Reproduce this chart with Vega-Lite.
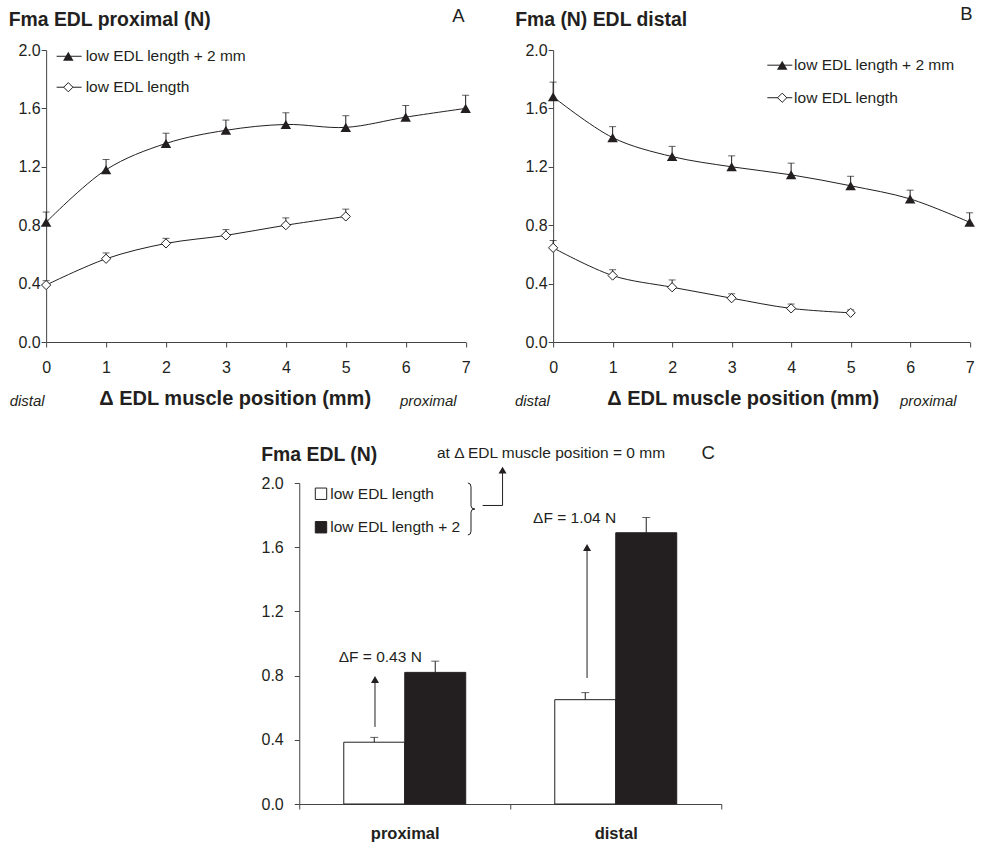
{
  "$schema": "https://vega.github.io/schema/vega-lite/v6.json",
  "background": "white",
  "padding": {"left": 8, "right": 8, "top": 5, "bottom": 0},
  "config": {
    "font": "Liberation Sans",
    "view": {"stroke": null},
    "axis": {"grid": false, "domainColor": "#444444", "tickColor": "#444444", "labelColor": "#231f20", "titleColor": "#231f20", "labelFontSize": 16, "tickSize": 5, "labelFont": "Liberation Sans", "titleFont": "Liberation Sans"},
    "text": {"color": "#231f20", "font": "Liberation Sans"}
  },
  "datasets": {
    "one": [{}],
    "A": [
      {"pos": 0, "series": "low EDL length + 2 mm", "force": 0.82, "upper": 0.89},
      {"pos": 1, "series": "low EDL length + 2 mm", "force": 1.18, "upper": 1.25},
      {"pos": 2, "series": "low EDL length + 2 mm", "force": 1.36, "upper": 1.43},
      {"pos": 3, "series": "low EDL length + 2 mm", "force": 1.45, "upper": 1.52},
      {"pos": 4, "series": "low EDL length + 2 mm", "force": 1.49, "upper": 1.57},
      {"pos": 5, "series": "low EDL length + 2 mm", "force": 1.47, "upper": 1.55},
      {"pos": 6, "series": "low EDL length + 2 mm", "force": 1.54, "upper": 1.62},
      {"pos": 7, "series": "low EDL length + 2 mm", "force": 1.6, "upper": 1.69},
      {"pos": 0, "series": "low EDL length", "force": 0.39, "upper": 0.42},
      {"pos": 1, "series": "low EDL length", "force": 0.57, "upper": 0.61},
      {"pos": 2, "series": "low EDL length", "force": 0.675, "upper": 0.71},
      {"pos": 3, "series": "low EDL length", "force": 0.73, "upper": 0.77},
      {"pos": 4, "series": "low EDL length", "force": 0.8, "upper": 0.85},
      {"pos": 5, "series": "low EDL length", "force": 0.86, "upper": 0.91}
    ],
    "B": [
      {"pos": 0, "series": "low EDL length + 2 mm", "force": 1.68, "upper": 1.78},
      {"pos": 1, "series": "low EDL length + 2 mm", "force": 1.4, "upper": 1.475},
      {"pos": 2, "series": "low EDL length + 2 mm", "force": 1.27, "upper": 1.34},
      {"pos": 3, "series": "low EDL length + 2 mm", "force": 1.2, "upper": 1.275},
      {"pos": 4, "series": "low EDL length + 2 mm", "force": 1.145, "upper": 1.225},
      {"pos": 5, "series": "low EDL length + 2 mm", "force": 1.07, "upper": 1.135},
      {"pos": 6, "series": "low EDL length + 2 mm", "force": 0.98, "upper": 1.04},
      {"pos": 7, "series": "low EDL length + 2 mm", "force": 0.82, "upper": 0.885},
      {"pos": 0, "series": "low EDL length", "force": 0.645, "upper": 0.695},
      {"pos": 1, "series": "low EDL length", "force": 0.455, "upper": 0.495},
      {"pos": 2, "series": "low EDL length", "force": 0.375, "upper": 0.425},
      {"pos": 3, "series": "low EDL length", "force": 0.3, "upper": 0.33},
      {"pos": 4, "series": "low EDL length", "force": 0.23, "upper": 0.26},
      {"pos": 5, "series": "low EDL length", "force": 0.2, "upper": 0.22}
    ],
    "C": [
      {"side": "proximal", "series": "low EDL length", "force": 0.385, "upper": 0.415},
      {"side": "proximal", "series": "low EDL length + 2", "force": 0.82, "upper": 0.89},
      {"side": "distal", "series": "low EDL length", "force": 0.65, "upper": 0.694},
      {"side": "distal", "series": "low EDL length + 2", "force": 1.69, "upper": 1.785}
    ]
  },
  "vconcat": [
    {
      "hconcat": [
        {
          "width": 419.5,
          "height": 292,
          "layer": [
            {
              "data": {"name": "A"},
              "encoding": {
                "x": {"field": "pos", "type": "quantitative", "scale": {"domain": [0, 7], "nice": false},
                  "axis": {"values": [0, 1, 2, 3, 4, 5, 6, 7], "format": "d", "title": "Δ EDL muscle position (mm)", "titleFontSize": 20, "titleFontWeight": "bold", "titleX": 188.5, "titleY": 62, "titleBaseline": "alphabetic", "titleAlign": "center", "labelPadding": 12, "labelFlush": false}},
                "y": {"field": "force", "type": "quantitative", "scale": {"domain": [0, 2]},
                  "axis": {"values": [0, 0.4, 0.8, 1.2, 1.6, 2], "format": ".1f", "title": "Fma EDL proximal (N)", "titleAngle": 0, "titleAlign": "left", "titleBaseline": "alphabetic", "titleX": -38, "titleY": -25, "titleFontSize": 19.4, "titleFontWeight": "bold", "labelPadding": 1}}
              },
              "layer": [
                {"mark": {"type": "line", "interpolate": "catmull-rom", "color": "#231f20", "strokeWidth": 1}, "encoding": {"detail": {"field": "series"}}},
                {"mark": {"type": "rule", "color": "#231f20", "strokeWidth": 1}, "encoding": {"y2": {"field": "upper"}}},
                {"mark": {"type": "tick", "orient": "horizontal", "size": 7, "thickness": 1, "color": "#231f20"}, "encoding": {"y": {"field": "upper", "type": "quantitative"}}},
                {"transform": [{"filter": "datum.series == 'low EDL length + 2 mm'"}], "mark": {"type": "point", "shape": "triangle-up", "size": 110, "filled": true, "color": "#231f20", "opacity": 1}},
                {"transform": [{"filter": "datum.series == 'low EDL length'"}], "mark": {"type": "point", "shape": "diamond", "size": 85, "filled": true, "fill": "white", "stroke": "#231f20", "strokeWidth": 1, "opacity": 1}}
              ]
            },
            {
              "data": {"name": "one"},
              "layer": [
                {"mark": {"type": "text", "text": "A", "fontSize": 18.5, "align": "center", "baseline": "alphabetic"}, "encoding": {"x": {"datum": 6.878}, "y": {"datum": 2.193}}},
                {"mark": {"type": "text", "text": "distal", "fontSize": 15, "fontStyle": "italic", "align": "left", "baseline": "alphabetic"}, "encoding": {"x": {"datum": -0.609}, "y": {"datum": -0.44}}},
                {"mark": {"type": "text", "text": "proximal", "fontSize": 15, "fontStyle": "italic", "align": "left", "baseline": "alphabetic"}, "encoding": {"x": {"datum": 5.904}, "y": {"datum": -0.44}}},
                {"mark": {"type": "rule", "color": "#231f20", "strokeWidth": 1}, "encoding": {"x": {"datum": 0.175}, "x2": {"datum": 0.592}, "y": {"datum": 1.957}}},
                {"mark": {"type": "rule", "color": "#231f20", "strokeWidth": 1}, "encoding": {"x": {"datum": 0.175}, "x2": {"datum": 0.592}, "y": {"datum": 1.745}}},
                {"mark": {"type": "point", "shape": "triangle-up", "size": 110, "filled": true, "color": "#231f20", "opacity": 1}, "encoding": {"x": {"datum": 0.37}, "y": {"datum": 1.957}}},
                {"mark": {"type": "point", "shape": "diamond", "size": 85, "filled": true, "fill": "white", "stroke": "#231f20", "strokeWidth": 1, "opacity": 1}, "encoding": {"x": {"datum": 0.37}, "y": {"datum": 1.745}}},
                {"mark": {"type": "text", "text": "low EDL length + 2 mm", "fontSize": 15.5, "align": "left", "baseline": "middle"}, "encoding": {"x": {"datum": 0.66}, "y": {"datum": 1.957}}},
                {"mark": {"type": "text", "text": "low EDL length", "fontSize": 15.5, "align": "left", "baseline": "middle"}, "encoding": {"x": {"datum": 0.66}, "y": {"datum": 1.745}}}
              ]
            }
          ]
        },
        {
          "width": 416.5,
          "height": 292,
          "layer": [
            {
              "data": {"name": "B"},
              "encoding": {
                "x": {"field": "pos", "type": "quantitative", "scale": {"domain": [0, 7], "nice": false},
                  "axis": {"values": [0, 1, 2, 3, 4, 5, 6, 7], "format": "d", "title": "Δ EDL muscle position (mm)", "titleFontSize": 20, "titleFontWeight": "bold", "titleX": 189.5, "titleY": 62, "titleBaseline": "alphabetic", "titleAlign": "center", "labelPadding": 12, "labelFlush": false}},
                "y": {"field": "force", "type": "quantitative", "scale": {"domain": [0, 2]},
                  "axis": {"values": [0, 0.4, 0.8, 1.2, 1.6, 2], "format": ".1f", "title": "Fma (N) EDL distal", "titleAngle": 0, "titleAlign": "left", "titleBaseline": "alphabetic", "titleX": -38.5, "titleY": -24.5, "titleFontSize": 19.4, "titleFontWeight": "bold", "labelPadding": 1}}
              },
              "layer": [
                {"mark": {"type": "line", "interpolate": "catmull-rom", "color": "#231f20", "strokeWidth": 1}, "encoding": {"detail": {"field": "series"}}},
                {"mark": {"type": "rule", "color": "#231f20", "strokeWidth": 1}, "encoding": {"y2": {"field": "upper"}}},
                {"mark": {"type": "tick", "orient": "horizontal", "size": 7, "thickness": 1, "color": "#231f20"}, "encoding": {"y": {"field": "upper", "type": "quantitative"}}},
                {"transform": [{"filter": "datum.series == 'low EDL length + 2 mm'"}], "mark": {"type": "point", "shape": "triangle-up", "size": 110, "filled": true, "color": "#231f20", "opacity": 1}},
                {"transform": [{"filter": "datum.series == 'low EDL length'"}], "mark": {"type": "point", "shape": "diamond", "size": 85, "filled": true, "fill": "white", "stroke": "#231f20", "strokeWidth": 1, "opacity": 1}}
              ]
            },
            {
              "data": {"name": "one"},
              "layer": [
                {"mark": {"type": "text", "text": "B", "fontSize": 18.5, "align": "center", "baseline": "alphabetic"}, "encoding": {"x": {"datum": 6.946}, "y": {"datum": 2.205}}},
                {"mark": {"type": "text", "text": "distal", "fontSize": 15, "fontStyle": "italic", "align": "left", "baseline": "alphabetic"}, "encoding": {"x": {"datum": -0.642}, "y": {"datum": -0.44}}},
                {"mark": {"type": "text", "text": "proximal", "fontSize": 15, "fontStyle": "italic", "align": "left", "baseline": "alphabetic"}, "encoding": {"x": {"datum": 5.83}, "y": {"datum": -0.44}}},
                {"mark": {"type": "rule", "color": "#231f20", "strokeWidth": 1}, "encoding": {"x": {"datum": 3.6}, "x2": {"datum": 4.02}, "y": {"datum": 1.896}}},
                {"mark": {"type": "rule", "color": "#231f20", "strokeWidth": 1}, "encoding": {"x": {"datum": 3.6}, "x2": {"datum": 4.02}, "y": {"datum": 1.673}}},
                {"mark": {"type": "point", "shape": "triangle-up", "size": 110, "filled": true, "color": "#231f20", "opacity": 1}, "encoding": {"x": {"datum": 3.85}, "y": {"datum": 1.896}}},
                {"mark": {"type": "point", "shape": "diamond", "size": 85, "filled": true, "fill": "white", "stroke": "#231f20", "strokeWidth": 1, "opacity": 1}, "encoding": {"x": {"datum": 3.85}, "y": {"datum": 1.673}}},
                {"mark": {"type": "text", "text": "low EDL length + 2 mm", "fontSize": 15.5, "align": "left", "baseline": "middle"}, "encoding": {"x": {"datum": 4.05}, "y": {"datum": 1.896}}},
                {"mark": {"type": "text", "text": "low EDL length", "fontSize": 15.5, "align": "left", "baseline": "middle"}, "encoding": {"x": {"datum": 4.05}, "y": {"datum": 1.673}}}
              ]
            }
          ]
        }
      ],
      "spacing": 43
    },
    {
      "width": 422,
      "height": 321,
      "layer": [
        {
          "data": {"name": "C"},
          "encoding": {
            "x": {"field": "side", "type": "nominal", "sort": ["proximal", "distal"], "scale": {"paddingInner": 0, "paddingOuter": 0},
              "axis": {"title": null, "labelAngle": 0, "labelFontSize": 16.5, "labelFontWeight": "bold", "labelPadding": 16, "tickBand": "extent"}},
            "xOffset": {"field": "series", "type": "nominal", "sort": ["low EDL length", "low EDL length + 2"], "scale": {"paddingInner": 0, "paddingOuter": 0.73}},
            "y": {"field": "force", "type": "quantitative", "stack": null, "scale": {"domain": [0, 2]},
              "axis": {"values": [0, 0.4, 0.8, 1.2, 1.6, 2], "format": ".1f", "title": "Fma EDL (N)", "titleAngle": 0, "titleAlign": "left", "titleBaseline": "alphabetic", "titleX": -38.5, "titleY": -22.6, "titleFontSize": 19.4, "titleFontWeight": "bold", "labelPadding": 11}}
          },
          "layer": [
            {"mark": {"type": "bar", "stroke": "#231f20", "strokeWidth": 1}, "encoding": {"fill": {"field": "series", "type": "nominal", "sort": ["low EDL length", "low EDL length + 2"], "scale": {"range": ["white", "#231f20"]},
              "legend": {"orient": "none", "legendX": 14, "legendY": 3, "title": null, "symbolType": "square", "symbolSize": 130, "symbolStrokeColor": "#231f20", "symbolStrokeWidth": 1, "labelFontSize": 15.5, "labelOffset": 1.5, "rowPadding": 16.5, "padding": 0, "labelColor": "#231f20", "labelFont": "Liberation Sans"}}}},
            {"mark": {"type": "rule", "color": "#231f20", "strokeWidth": 1}, "encoding": {"y2": {"field": "upper"}}},
            {"mark": {"type": "tick", "orient": "horizontal", "size": 8, "thickness": 1, "color": "#231f20"}, "encoding": {"y": {"field": "upper", "type": "quantitative"}}}
          ]
        },
        {
          "data": {"name": "one"},
          "layer": [
            {"mark": {"type": "text", "text": "ΔF = 0.43 N", "fontSize": 15.5, "align": "center", "baseline": "middle"}, "encoding": {"x": {"datum": 0.384, "type": "quantitative", "scale": {"domain": [0, 2], "nice": false}, "axis": null}, "y": {"datum": 0.916}}},
            {"mark": {"type": "text", "text": "ΔF = 1.04 N", "fontSize": 15.5, "align": "center", "baseline": "middle"}, "encoding": {"x": {"datum": 1.305, "axis": null}, "y": {"datum": 1.78}}},
            {"mark": {"type": "text", "text": "at Δ EDL muscle position = 0 mm", "fontSize": 15.5, "align": "center", "baseline": "middle"}, "encoding": {"x": {"datum": 1.193, "axis": null}, "y": {"datum": 2.185}}},
            {"mark": {"type": "text", "text": "C", "fontSize": 18.5, "align": "center", "baseline": "middle"}, "encoding": {"x": {"datum": 1.938, "axis": null}, "y": {"datum": 2.187}}},
            {"mark": {"type": "rule", "color": "#231f20", "strokeWidth": 1}, "encoding": {"x": {"datum": 0.359, "axis": null}, "y": {"datum": 0.48}, "y2": {"datum": 0.776}}},
            {"mark": {"type": "point", "shape": "triangle-up", "size": 64, "filled": true, "color": "#231f20", "opacity": 1}, "encoding": {"x": {"datum": 0.359, "axis": null}, "y": {"datum": 0.776}}},
            {"mark": {"type": "rule", "color": "#231f20", "strokeWidth": 1}, "encoding": {"x": {"datum": 1.364, "axis": null}, "y": {"datum": 0.785}, "y2": {"datum": 1.598}}},
            {"mark": {"type": "point", "shape": "triangle-up", "size": 64, "filled": true, "color": "#231f20", "opacity": 1}, "encoding": {"x": {"datum": 1.364, "axis": null}, "y": {"datum": 1.598}}},
            {"mark": {"type": "point", "shape": "M-0.12,-1Q0,-1 0,-0.85L0,-0.12Q0,0 0.15,0Q0,0 0,0.12L0,0.85Q0,1 -0.12,1", "size": 2704, "filled": false, "stroke": "#231f20", "strokeWidth": 1, "opacity": 1}, "encoding": {"x": {"datum": 0.814, "axis": null}, "y": {"datum": 1.838}}},
            {"mark": {"type": "rule", "color": "#231f20", "strokeWidth": 1}, "encoding": {"x": {"datum": 0.869, "axis": null}, "x2": {"datum": 0.9635}, "y": {"datum": 1.86}}},
            {"mark": {"type": "rule", "color": "#231f20", "strokeWidth": 1}, "encoding": {"x": {"datum": 0.9635, "axis": null}, "y": {"datum": 1.86}, "y2": {"datum": 2.08}}},
            {"mark": {"type": "point", "shape": "triangle-up", "size": 64, "filled": true, "color": "#231f20", "opacity": 1}, "encoding": {"x": {"datum": 0.9635, "axis": null}, "y": {"datum": 2.08}}}
          ]
        }
      ],
      "resolve": {"scale": {"x": "independent"}}
    }
  ],
  "spacing": 33,
  "center": true,
  "resolve": {"legend": {"fill": "independent"}}
}
